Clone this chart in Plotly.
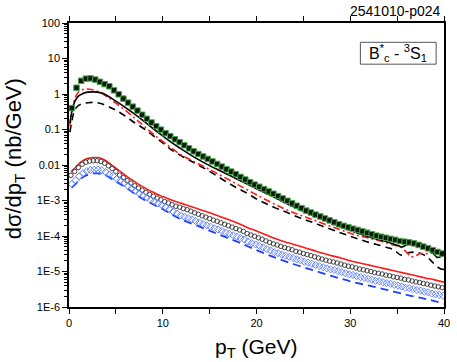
import plotly.graph_objects as go

# ---------------- data ----------------
sq_x = [0.3 + 0.5 * i for i in range(80)]
sq_y = [0.40, 1.5, 2.35, 2.7, 2.75, 2.55, 2.2, 1.9, 1.65, 1.27,
        0.98, 0.74, 0.57, 0.44, 0.34, 0.26, 0.20, 0.157, 0.124, 0.099,
        0.079, 0.065, 0.053, 0.044, 0.036, 0.0295, 0.0243, 0.0204, 0.0174, 0.0148,
        0.0126, 0.0107, 0.0090, 0.0076, 0.0065, 0.0055, 0.0046, 0.0039, 0.0033, 0.0028,
        0.00243, 0.00209, 0.0018, 0.00155, 0.00133, 0.00114, 0.00098, 0.00083, 0.00071, 0.00061,
        0.00052, 0.00046, 0.0004, 0.000355, 0.000313, 0.000275, 0.000243, 0.000214, 0.000193, 0.000176,
        0.00016, 0.000148, 0.000135, 0.000123, 0.000112, 0.000102, 9.5e-5, 8.9e-5, 8.3e-5, 7.8e-5,
        7.2e-5, 6.9e-5, 6.6e-5, 6.2e-5, 5.6e-5, 5.0e-5, 4.5e-5, 4.0e-5, 3.55e-5, 3.2e-5]

bs_x = [0.1, 0.3, 0.6, 1.0, 1.5, 2.0, 2.5, 3.0, 3.5, 4.0, 5, 6, 7, 8, 9, 10, 11, 12, 13, 14,
        15, 16, 17, 18, 19, 20, 21, 22, 23, 24, 25, 26, 27, 28, 29, 30, 31, 32, 33, 34,
        35, 35.5, 36, 36.5, 37.2, 37.9, 38.6, 39.3, 40]
bs_y = [0.15, 0.32, 0.6, 0.87, 1.04, 1.13, 1.15, 1.13, 1.06, 0.92, 0.63, 0.42, 0.27, 0.17, 0.105,
        0.066, 0.042, 0.028, 0.019, 0.0133, 0.0096, 0.0071, 0.0053, 0.0039, 0.0029, 0.00215,
        0.0016, 0.0012, 0.00088, 0.00066, 0.0005, 0.00038, 0.0003, 0.000235, 0.00018, 0.000142,
        0.000115, 9.4e-5, 8.0e-5, 6.8e-5, 5.5e-5, 4.9e-5, 5.6e-5, 6.3e-5, 6.3e-5, 5.5e-5,
        4.0e-5, 2.5e-5, 3.0e-5]

rd_x = [0.1, 0.3, 0.6, 1.0, 1.5, 2.0, 2.5, 3.0, 3.5, 4.0, 4.3, 5, 6, 7, 8, 9, 10, 11, 12, 13,
        14, 15, 16, 17, 18, 19, 20, 21, 22, 23, 24, 25, 26, 27, 28, 29, 30, 31, 32, 33,
        34, 34.7, 35.4, 36.0, 36.5, 37.0, 37.5, 38.3, 39.0, 40.0]
rd_y = [0.12, 0.3, 0.72, 1.12, 1.33, 1.38, 1.32, 1.2, 1.04, 0.86, 0.76, 0.55, 0.35, 0.21, 0.125,
        0.074, 0.046, 0.029, 0.019, 0.0138, 0.0102, 0.0075, 0.0054, 0.0039, 0.0028, 0.002,
        0.00145, 0.00105, 0.00077, 0.00058, 0.00045, 0.00036, 0.00029, 0.00023, 0.000183,
        0.000148, 0.00012, 0.0001, 8.7e-5, 7.5e-5, 6.2e-5, 5.5e-5, 4.9e-5, 3.5e-5, 2.6e-5,
        2.8e-5, 3.2e-5, 3.2e-5, 3.3e-5, 3.0e-5]

bd_x = [0.1, 0.3, 0.6, 1.0, 1.5, 2.0, 2.5, 3.0, 3.5, 4.3, 5, 6, 7, 8, 9, 10, 11, 12, 13, 14,
        15, 16, 17, 18, 19, 20, 21, 22, 23, 24, 25, 26, 27, 28, 29, 30, 31, 32, 33, 34,
        34.7, 35.4, 36, 37, 38, 38.9, 39.6, 40]
bd_y = [0.085, 0.17, 0.35, 0.47, 0.54, 0.57, 0.58, 0.57, 0.53, 0.43, 0.35, 0.24, 0.155, 0.105,
        0.066, 0.042, 0.026, 0.018, 0.013, 0.0093, 0.0066, 0.0045, 0.0031, 0.0022, 0.0016,
        0.0011, 0.00082, 0.00062, 0.00049, 0.00038, 0.0003, 0.00024, 0.00019, 0.000152,
        0.000122, 9.8e-5, 8.0e-5, 6.6e-5, 5.6e-5, 4.7e-5, 4.0e-5, 2.9e-5, 3.3e-5, 3.5e-5,
        2.8e-5, 1.7e-5, 1.2e-5, 1.15e-5]

rs_x = [0.2, 0.6, 1.0, 1.4, 1.8, 2.2, 2.6, 3.0, 3.4, 3.8, 4.2, 4.6, 5.0, 5.4, 5.8, 6.2, 6.6,
        7.0, 7.4, 7.8, 8.2, 8.6, 9.0, 9.4, 9.8, 10.2, 10.6, 11, 12, 13, 14, 15, 16, 17, 18,
        19, 20, 21, 22, 23, 24, 25, 26, 27, 28, 29, 30, 31, 32, 33, 34, 35, 36, 37, 38, 39, 40]
rs_y = [6.3e-3, 8.1e-3, 1.05e-2, 1.29e-2, 1.48e-2, 1.58e-2, 1.62e-2, 1.62e-2, 1.55e-2, 1.38e-2,
        1.17e-2, 9.8e-3, 8.1e-3, 6.8e-3, 5.6e-3, 4.7e-3, 4.0e-3, 3.4e-3, 2.9e-3, 2.5e-3,
        2.2e-3, 1.9e-3, 1.7e-3, 1.5e-3, 1.35e-3, 1.23e-3, 1.12e-3, 1.02e-3, 8.3e-4, 6.8e-4,
        5.5e-4, 4.5e-4, 3.6e-4, 2.9e-4, 2.3e-4, 1.74e-4, 1.38e-4, 1.08e-4, 8.5e-5, 6.9e-5,
        5.8e-5, 4.8e-5, 4.0e-5, 3.3e-5, 2.8e-5, 2.4e-5, 2.0e-5, 1.74e-5, 1.51e-5, 1.32e-5,
        1.15e-5, 1.0e-5, 8.7e-6, 7.6e-6, 6.6e-6, 5.8e-6, 5.0e-6]

ci_x = [round(0.2 + 0.4 * i, 1) for i in range(100)]
ci_y = [5.1e-3, 6.6e-3, 8.5e-3, 1.05e-2, 1.20e-2, 1.29e-2, 1.32e-2, 1.32e-2, 1.26e-2, 1.12e-2,
        9.5e-3, 7.9e-3, 6.5e-3, 5.2e-3, 4.4e-3, 3.6e-3, 3.1e-3, 2.6e-3, 2.24e-3, 1.95e-3,
        1.70e-3, 1.48e-3, 1.32e-3, 1.17e-3, 1.05e-3, 9.3e-4, 8.5e-4, 7.6e-4, 6.9e-4, 6.5e-4,
        5.9e-4, 5.5e-4, 5.0e-4, 4.5e-4, 4.1e-4, 3.7e-4, 3.4e-4, 3.1e-4, 2.8e-4, 2.6e-4,
        2.35e-4, 2.14e-4, 1.95e-4, 1.78e-4, 1.62e-4, 1.48e-4, 1.35e-4, 1.17e-4, 1.07e-4, 9.8e-5,
        8.9e-5, 8.1e-5, 7.3e-5, 6.6e-5, 6.0e-5, 5.6e-5, 5.1e-5, 4.7e-5, 4.4e-5, 4.1e-5,
        3.7e-5, 3.5e-5, 3.2e-5, 3.0e-5, 2.8e-5, 2.6e-5, 2.4e-5, 2.24e-5, 2.09e-5, 1.95e-5,
        1.86e-5, 1.74e-5, 1.62e-5, 1.51e-5, 1.41e-5, 1.35e-5, 1.26e-5, 1.17e-5, 1.12e-5, 1.05e-5,
        1.0e-5, 9.3e-6, 8.9e-6, 8.5e-6, 7.9e-6, 7.6e-6, 7.1e-6, 6.8e-6, 6.5e-6, 6.0e-6,
        5.8e-6, 5.4e-6, 5.1e-6, 4.9e-6, 4.6e-6, 4.4e-6, 4.1e-6, 3.9e-6, 3.7e-6, 3.5e-6]

di_x = [round(0.3 + 0.4 * i, 1) for i in range(100)]
di_y = [2.9e-3, 3.7e-3, 4.8e-3, 5.9e-3, 6.7e-3, 7.2e-3, 7.4e-3, 7.4e-3, 7.1e-3, 6.3e-3,
        5.3e-3, 5.0e-3, 4.1e-3, 3.7e-3, 3.1e-3, 2.56e-3, 2.2e-3, 1.85e-3, 1.59e-3, 1.38e-3,
        1.21e-3, 1.05e-3, 9.4e-4, 8.3e-4, 7.5e-4, 6.5e-4, 5.7e-4, 4.9e-4, 4.3e-4, 3.8e-4,
        3.5e-4, 3.2e-4, 2.95e-4, 2.65e-4, 2.42e-4, 2.18e-4, 2.0e-4, 1.83e-4, 1.65e-4, 1.53e-4,
        1.39e-4, 1.26e-4, 1.15e-4, 1.05e-4, 9.6e-5, 8.7e-5, 8.0e-5, 6.9e-5, 6.3e-5, 5.8e-5,
        5.3e-5, 4.8e-5, 4.3e-5, 3.9e-5, 3.5e-5, 3.3e-5, 3.0e-5, 2.8e-5, 2.6e-5, 2.4e-5,
        2.2e-5, 2.07e-5, 1.89e-5, 1.77e-5, 1.65e-5, 1.53e-5, 1.42e-5, 1.32e-5, 1.23e-5, 1.15e-5,
        1.10e-5, 1.03e-5, 9.6e-6, 8.9e-6, 8.3e-6, 8.0e-6, 7.4e-6, 6.9e-6, 6.6e-6, 6.2e-6,
        5.9e-6, 5.5e-6, 5.3e-6, 5.0e-6, 4.7e-6, 4.5e-6, 4.2e-6, 4.0e-6, 3.8e-6, 3.5e-6,
        3.4e-6, 3.2e-6, 3.0e-6, 2.9e-6, 2.7e-6, 2.6e-6, 2.4e-6, 2.3e-6, 2.2e-6, 2.07e-6]

bl_x = [0.3, 0.7, 1.1, 1.5, 2.0, 2.5, 3.0, 3.5, 4.0, 5, 6, 7, 8, 9, 10, 11, 12, 14, 16, 18,
        20, 22, 24, 26, 28, 30, 32, 34, 36, 38, 40]
bl_y = [2.3e-3, 2.9e-3, 3.8e-3, 4.6e-3, 5.3e-3, 5.8e-3, 5.8e-3, 5.6e-3, 5.0e-3, 3.4e-3,
        2.4e-3, 1.54e-3, 1.06e-3, 7.7e-4, 5.7e-4, 4.0e-4, 2.9e-4, 1.8e-4, 1.1e-4, 6.8e-5,
        4.0e-5, 2.45e-5, 1.6e-5, 1.1e-5, 7.5e-6, 5.3e-6, 4.0e-6, 3.0e-6, 2.2e-6, 1.7e-6, 1.25e-6]

x_ticks = [0, 5, 10, 15, 20, 25, 30, 35, 40]
x_ticktext = ["0", "", "10", "", "20", "", "30", "", "40"]
y_ticks = [100, 10, 1, 0.1, 0.01, 1e-3, 1e-4, 1e-5, 1e-6]
y_ticktext = ["100", "10", "1", "0.1", "0.01", "1E-3", "1E-4", "1E-5", "1E-6"]

# ---------------- figure ----------------
fig = go.Figure()

fig.add_trace(go.Scatter(x=rs_x, y=rs_y, mode="lines", line=dict(color="#ff1a1a", width=1.6, shape="spline")))
fig.add_trace(go.Scatter(x=bl_x, y=bl_y, mode="lines", line=dict(color="#1f3fff", width=1.8, dash="8px,5px", shape="spline")))
fig.add_trace(go.Scatter(x=ci_x, y=ci_y, mode="markers",
                         marker=dict(symbol="circle-open", size=4.5, color="#333333", line=dict(width=0.9))))
fig.add_trace(go.Scatter(x=di_x, y=di_y, mode="markers",
                         marker=dict(symbol="diamond-open", size=5.5, color="#5577ff", line=dict(width=0.9))))

fig.add_trace(go.Scatter(x=bd_x, y=bd_y, mode="lines", line=dict(color="black", width=1.6, dash="7px,5px", shape="spline")))
fig.add_trace(go.Scatter(x=rd_x, y=rd_y, mode="lines", line=dict(color="#ff1a1a", width=1.6, dash="7px,3px,2px,3px", shape="spline")))
fig.add_trace(go.Scatter(x=bs_x, y=bs_y, mode="lines", line=dict(color="black", width=1.6, shape="spline")))
fig.add_trace(go.Scatter(x=sq_x, y=sq_y, mode="markers",
                         marker=dict(symbol="square", size=5.5, color="#0a1a0a", line=dict(color="#49a849", width=1))))

minor_vals = [m * 10 ** k for k in range(-6, 2) for m in range(2, 10)]

fig.update_layout(
    width=457, height=362,
    margin=dict(l=69, r=7, t=23, b=55),
    paper_bgcolor="white", plot_bgcolor="white",
    showlegend=False,
    font=dict(family="Liberation Sans, Arial, sans-serif", color="black", size=11),
    xaxis=dict(range=[0, 40], tickmode="array", tickvals=x_ticks, ticktext=x_ticktext,
               ticks="outside", ticklen=5, tickwidth=1, tickcolor="black",
               showline=True, linecolor="black", linewidth=1.5, mirror="ticks",
               showgrid=False, zeroline=False, tickfont=dict(size=11)),
    yaxis=dict(type="log", range=[-6, 2], tickmode="array", tickvals=y_ticks, ticktext=y_ticktext,
               ticks="outside", ticklen=5, tickwidth=1, tickcolor="black",
               showline=True, linecolor="black", linewidth=1.5, mirror=True,
               showgrid=False, zeroline=False, tickfont=dict(size=11),
               minor=dict(tickvals=minor_vals, ticks="outside", ticklen=3, tickwidth=1, tickcolor="black", showgrid=False)),
    annotations=[
        dict(text="d\u03c3/dp<sub>T</sub> (nb/GeV)", textangle=-90, xref="paper", yref="paper",
             x=-0.144, y=0.52, xanchor="center", yanchor="middle", showarrow=False,
             font=dict(size=22)),
        dict(text="p<sub>T</sub> (GeV)", xref="paper", yref="paper",
             x=0.501, y=-0.145, xanchor="center", yanchor="middle", showarrow=False,
             font=dict(size=21)),
        dict(text="2541010-p024", xref="paper", yref="paper",
             x=0.997, y=1.041, xanchor="right", yanchor="middle", showarrow=False,
             font=dict(size=14)),
        dict(text="B<sup>*</sup><sub>c</sub> - <sup>3</sup>S<sub>1</sub>", xref="paper", yref="paper",
             x=0.878, y=0.893, xanchor="center", yanchor="middle", showarrow=False,
             font=dict(size=16)),
    ],
    shapes=[
        dict(type="rect", xref="paper", yref="paper", x0=0.777, x1=0.979, y0=0.855, y1=0.932,
             line=dict(color="#555555", width=1), fillcolor="rgba(0,0,0,0)"),
    ],
)

fig.write_html("out.html", config={"displayModeBar": False},
               post_script="document.body.style.margin='0';document.body.style.overflow='hidden';")
